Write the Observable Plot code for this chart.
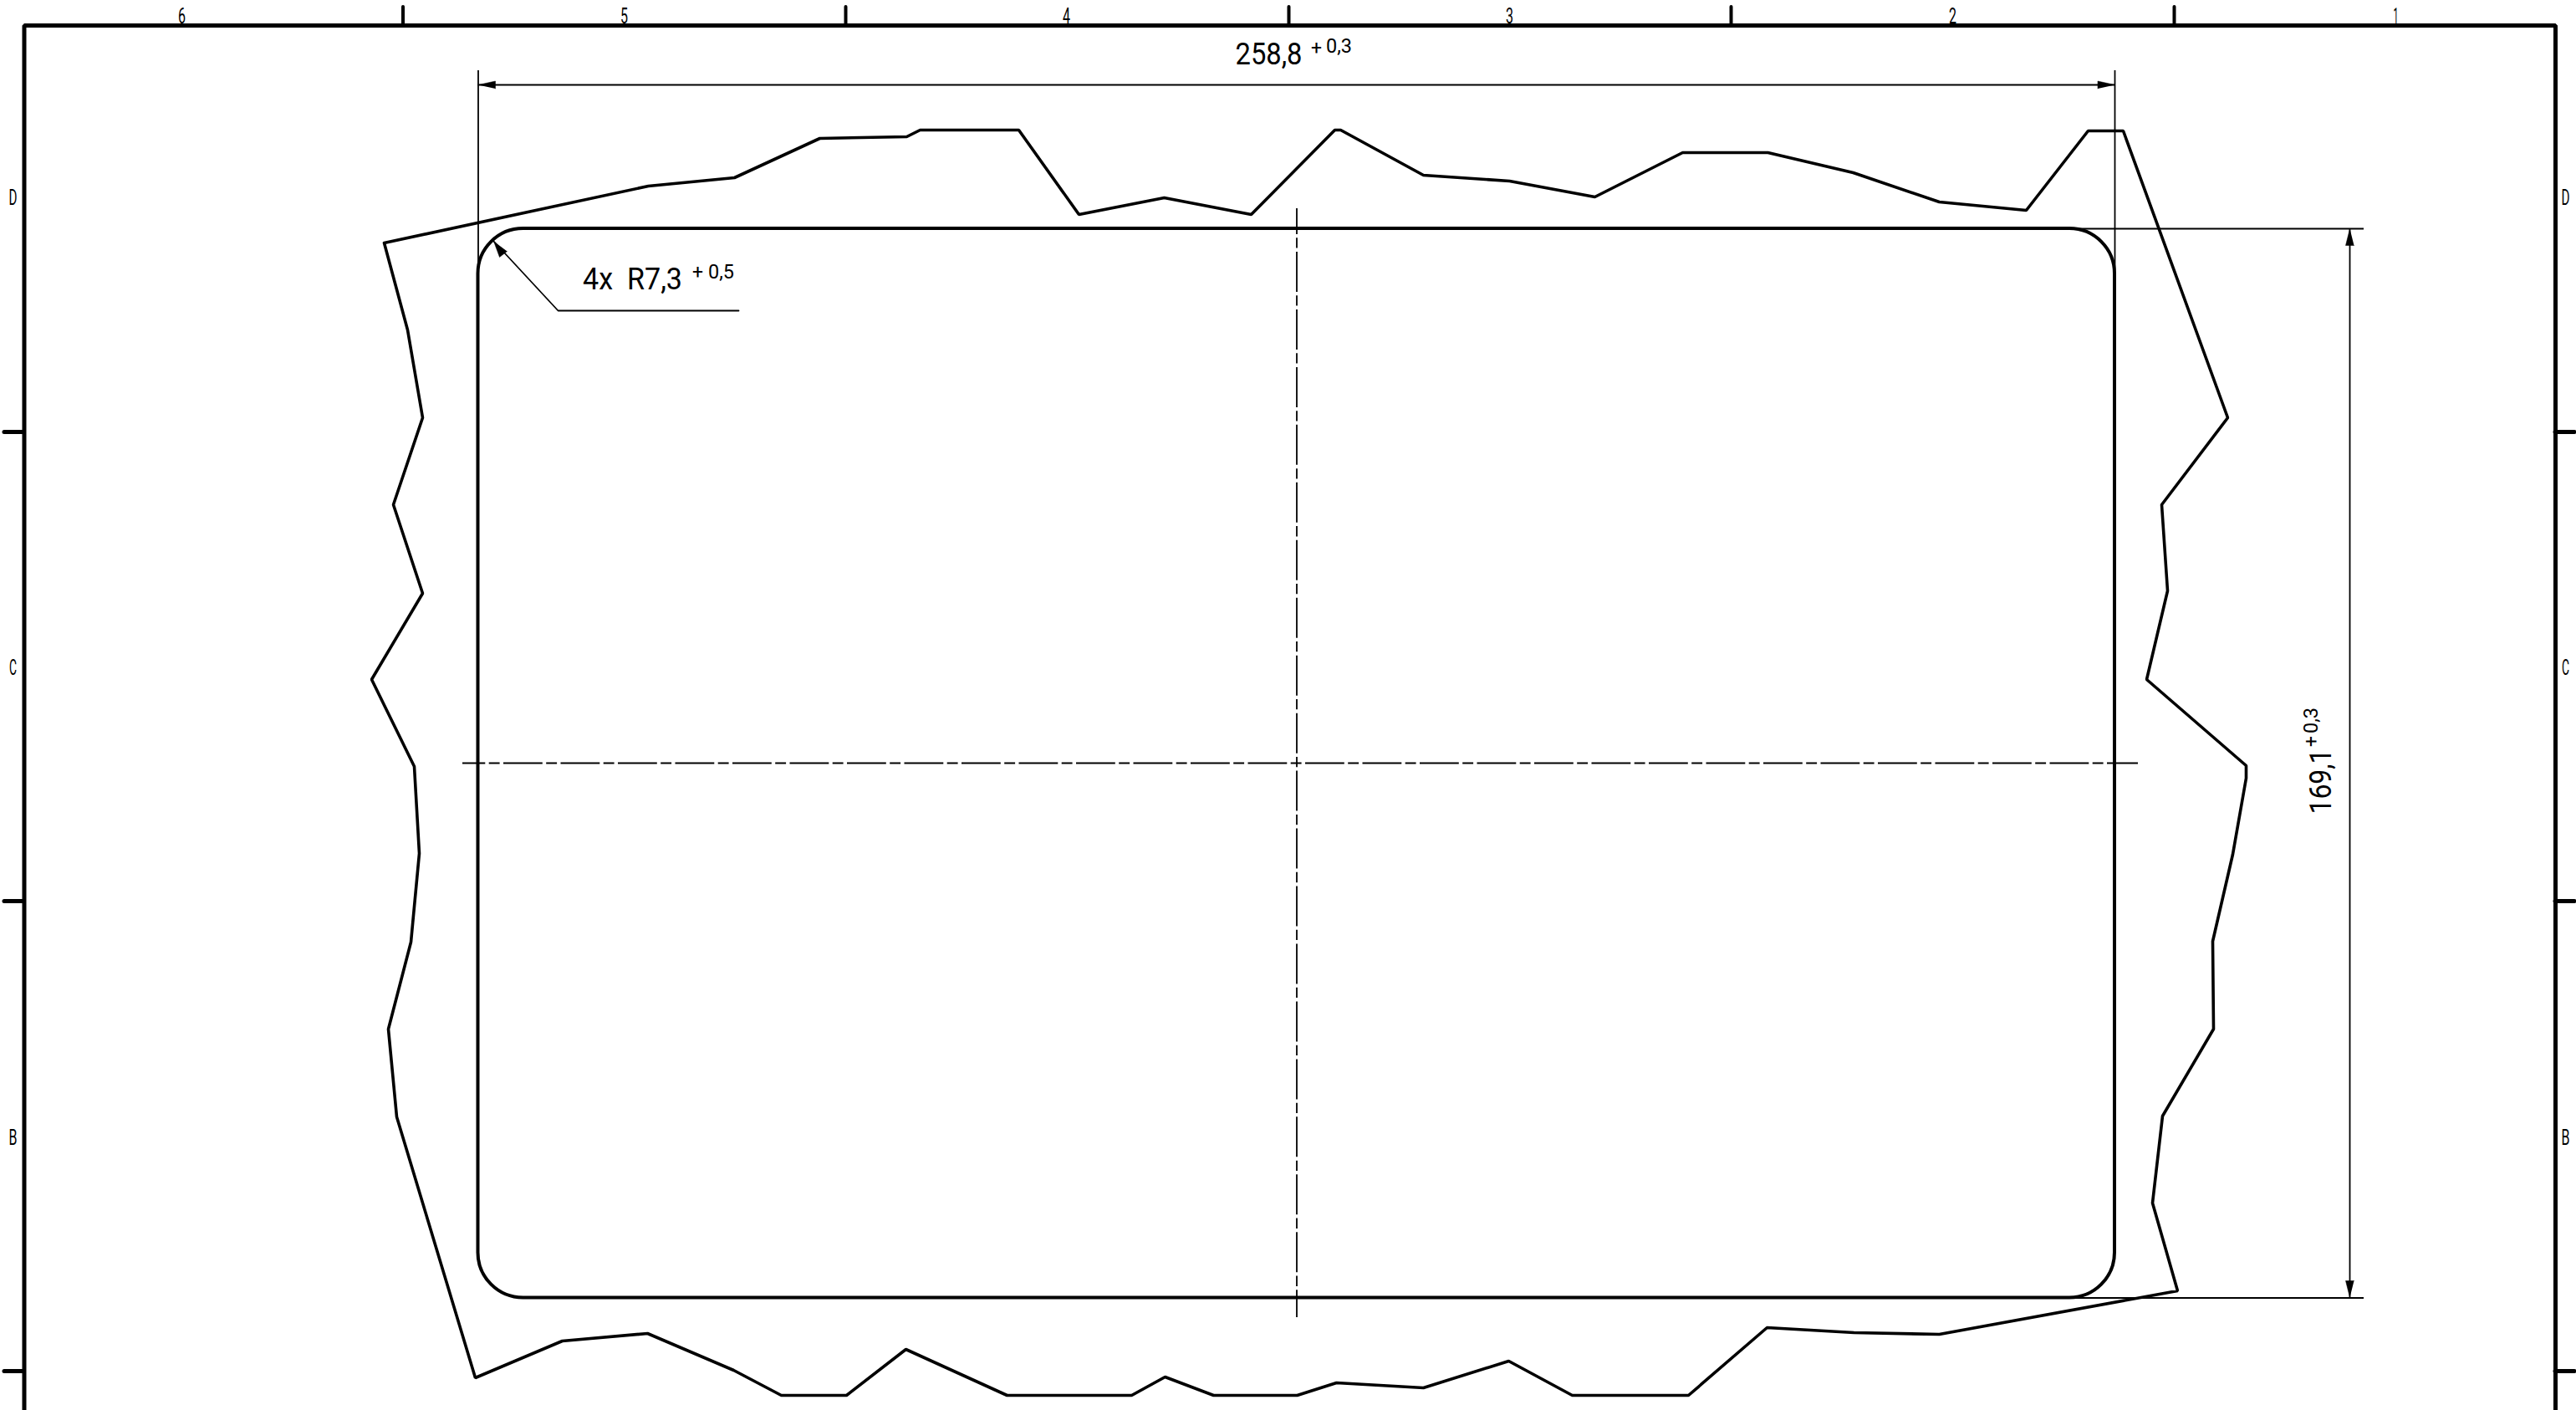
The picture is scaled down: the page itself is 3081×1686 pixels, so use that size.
<!DOCTYPE html>
<html>
<head>
<meta charset="utf-8">
<script src="https://cdn.jsdelivr.net/npm/d3@7"></script>
<script src="https://cdn.jsdelivr.net/npm/@observablehq/plot@0.6"></script>
<style>html,body{margin:0;padding:0;background:#fff}svg{display:block}</style>
</head>
<body>
<div id="chart"></div>
<script>
// Drawing values, in sheet units
const outlineX = [459,487,505,470,505,444,495,501,491,464,474,568,672,774,877,934,1012,1083,1204,1353,1393,1451,1551,1598,1702,1804,1880,2019,2113,2217,2319,2604,2574,2586,2647,2646,2670,2686,2686,2567,2592,2585,2664,2539,2497,2423,2319,2216,2114,2012,1907,1805,1702,1603,1596,1496,1392,1290,1218,1100,1084,980,878,775,459];
const outlineY = [290,394,499,603,709,812,916,1020,1126,1230,1335,1647,1603,1594,1638,1668,1668,1613,1668,1668,1646,1668,1668,1653,1659,1627,1668,1668,1587,1593,1595,1543,1438,1334,1230,1125,1021,930,915,812,706,603,499,156,156,251,241,206,182,182,235,216,209,155,155,256,236,256,155,155,163,165,212,222,290];
const frameX = [28.5,28.5,3056,3056];
const frameY = [1686,30,30,1686];
const topTicks = [481.5,1011,1541,2070,2600];
const sideTicks = [516,1077,1639];
const columnLabels = ["6","5","4","3","2","1"];
const columnX = [217,746,1275,1805,2335,2865];
const rowLabels = ["D","C","B"];
const rowY = [236,798,1360];
const rectLeft = 571.5, rectRight = 2529, rectTop = 273, rectBottom = 1551.5, cornerRadius = 54;
const centerX = 1550.5, centerY = 912;
const centerXSpan = [553,2557], centerYSpan = [249,1575];
const dimTopY = 101, dimRightX = 2810;
const witnessTop = 84, witnessEndY = 328, witnessStartX = 2482, witnessEndX = 2827;
const leaderX = [590,667,883], leaderY = [288,371,371];
const arrowIds = ["l","l","l","r","r","r","t","t","t","b","b","b","q","q","q"];
const arrowX = [571.5,592,592, 2529,2508.5,2508.5, 2810,2805,2815, 2810,2805,2815, 590,597,606];
const arrowY = [101,96.5,105.5, 101,96.5,105.5, 273,293,293, 1551,1531,1531, 288,307,300];
const tolText = ["258,8","4x  R7,3"];
const tolX = [1517,756]; const tolY = [65,334];
const supText = ["+","0,3","+","0,5"];
const supX = [1574,1601,834,862]; const supY = [57,55,325,325];
const vertMain = ["169,1"], vertMainX = [2776], vertMainY = [934];
const vertSup = ["+","0,3"], vertSupX = [2764,2764], vertSupY = [886,861];
const glyphRun = {"258,8":80,"4x  R7,3":119,"0,3":31,"0,5":31,"169,1":78,"6":9,"5":9,"4":9,"3":9,"2":9,"1":6,"D":10,"C":9,"B":10};

const font = "Roboto,'DejaVu Sans',sans-serif";
const black = "#000";

const rowsOf = (xs, ys) => xs.map((x, i) => ({x, y: ys[i]}));
const labelData = (ts, xs, ys) => ts.map((t, i) => ({t, x: xs[i], y: ys[i]}));
const textStyle = (fontSize, extra = {}) => ({x: "x", y: "y", text: "t", fontSize, fontFamily: font, fontWeight: 400, fill: black, ...extra});

const chart = Plot.plot({
  width: 3081, height: 1686,
  margin: 0,
  x: {domain: [0, 3081], range: [0, 3081], axis: null},
  y: {domain: [0, 1686], range: [0, 1686], axis: null},
  style: {background: "#fff"},
  marks: [
    // sheet frame and zone ticks
    Plot.line(rowsOf(frameX, frameY), {x: "x", y: "y", stroke: black, strokeWidth: 5, strokeLinejoin: "miter"}),
    Plot.ruleX(topTicks, {x: d => d, y1: 8, y2: 30, stroke: black, strokeWidth: 4, strokeLinecap: "round"}),
    Plot.ruleY(sideTicks, {y: d => d, x1: 5, x2: 28.5, stroke: black, strokeWidth: 5, strokeLinecap: "round"}),
    Plot.ruleY(sideTicks, {y: d => d, x1: 3056, x2: 3079, stroke: black, strokeWidth: 5, strokeLinecap: "round"}),
    Plot.text(labelData(columnLabels, columnX, columnLabels.map(() => 19)), textStyle(25)),
    Plot.text(labelData(rowLabels, rowLabels.map(() => 15), rowY), textStyle(25)),
    Plot.text(labelData(rowLabels, rowLabels.map(() => 3068), rowY), textStyle(25)),
    // broken outline
    Plot.line(rowsOf(outlineX, outlineY), {x: "x", y: "y", stroke: black, strokeWidth: 3.6, strokeLinejoin: "miter"}),
    // rounded rectangle
    Plot.rect([0], {x1: () => rectLeft, x2: () => rectRight, y1: () => rectTop, y2: () => rectBottom, rx: cornerRadius, ry: cornerRadius, fill: "none", stroke: black, strokeWidth: 4}),
    // centre lines
    Plot.ruleY([centerY], {x1: centerXSpan[0], x2: centerXSpan[1], stroke: black, strokeWidth: 1.8, strokeDasharray: "46.8,4.4,12.9,4.4", strokeDashoffset: 19.5}),
    Plot.ruleX([centerX], {y1: centerYSpan[0], y2: centerYSpan[1], stroke: black, strokeWidth: 1.8, strokeDasharray: "48,4.3,12.3,4.36", strokeDashoffset: 17}),
    // dimension and witness lines
    Plot.ruleX([rectLeft, rectRight], {y1: witnessTop, y2: witnessEndY, stroke: black, strokeWidth: 1.8}),
    Plot.ruleY([dimTopY], {x1: rectLeft, x2: rectRight, stroke: black, strokeWidth: 1.8}),
    Plot.ruleY([rectTop, rectBottom], {x1: witnessStartX, x2: witnessEndX, stroke: black, strokeWidth: 1.8}),
    Plot.ruleX([dimRightX], {y1: rectTop, y2: rectBottom, stroke: black, strokeWidth: 1.8}),
    Plot.line(rowsOf(leaderX, leaderY), {x: "x", y: "y", stroke: black, strokeWidth: 1.8}),
    Plot.line(arrowIds.map((id, i) => ({id, x: arrowX[i], y: arrowY[i]})), {x: "x", y: "y", z: "id", fill: black, stroke: black, strokeWidth: 0.5}),
    // dimension text
    Plot.text(labelData(tolText, tolX, tolY), textStyle(36.5)),
    Plot.text(labelData(supText, supX, supY), textStyle(23)),
    Plot.text(labelData(vertMain, vertMainX, vertMainY), textStyle(36.5, {rotate: -90})),
    Plot.text(labelData(vertSup, vertSupX, vertSupY), textStyle(23, {rotate: -90}))
  ]
});
// Fit each text run to the narrow drafting lettering of the sheet
d3.select(chart).selectAll("text").each(function () {
  const run = glyphRun[this.textContent];
  if (run) {
    this.setAttribute("textLength", run);
    this.setAttribute("lengthAdjust", "spacingAndGlyphs");
    this.setAttribute("xml:space", "preserve");
    this.style.whiteSpace = "pre";
  }
});
document.getElementById("chart").appendChild(chart);
</script>
</body>
</html>
